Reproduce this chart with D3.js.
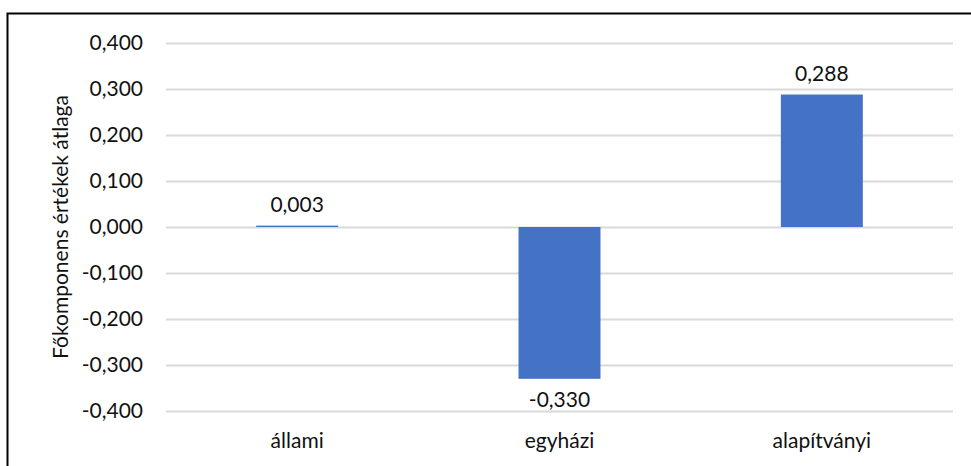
<!DOCTYPE html>
<html>
<head>
<meta charset="utf-8">
<script src="https://cdn.jsdelivr.net/npm/d3@7"></script>
<style>
  html, body { margin: 0; padding: 0; background: #fff; }
  svg { display: block; }
  text { font-family: Lato, "Open Sans", sans-serif; fill: #111; }
</style>
</head>
<body>
<svg id="chart" width="971" height="466"></svg>
<script>
// Average principal-component score by school maintainer type
const categories = ["állami", "egyházi", "alapítványi"];
const values = [0.003, -0.330, 0.288];
const tickValues = [0.4, 0.3, 0.2, 0.1, 0, -0.1, -0.2, -0.3, -0.4];
const axisTitle = "Főkomponens értékek átlaga";

const svg = d3.select("#chart");
const W = 971, H = 466;
const plot = { left: 166, right: 953, top: 43, bottom: 411 };
const fontSize = 21;

const fmt = v => d3.format(".3f")(v).replace(".", ",").replace("−", "-");

// outer frame
svg.append("rect")
  .attr("x", 7.5).attr("y", 13.5)
  .attr("width", W + 10).attr("height", H + 10)
  .attr("fill", "none").attr("stroke", "#000").attr("stroke-width", 2);

const y = d3.scaleLinear().domain([-0.4, 0.4]).range([plot.bottom, plot.top]);
const x = d3.scaleBand().domain(categories)
  .range([plot.left, plot.right])
  .paddingInner(0.6875).paddingOuter(0.6875 / 2);

// gridlines
svg.append("g").selectAll("line").data(tickValues).join("line")
  .attr("x1", plot.left).attr("x2", plot.right)
  .attr("y1", d => Math.round(y(d)) + 0.5).attr("y2", d => Math.round(y(d)) + 0.5)
  .attr("stroke", "#d9d9d9").attr("stroke-width", 2);

// y tick labels
svg.append("g").selectAll("text").data(tickValues).join("text")
  .attr("x", 143).attr("y", d => y(d))
  .attr("dy", "0.35em").attr("text-anchor", "end")
  .attr("font-size", fontSize)
  .text(fmt);

// axis title
svg.append("text")
  .attr("transform", `translate(68,${(plot.top + plot.bottom) / 2}) rotate(-90)`)
  .attr("text-anchor", "middle").attr("font-size", fontSize)
  .text(axisTitle);

// bars
svg.append("g").selectAll("rect").data(values).join("rect")
  .attr("x", (d, i) => x(categories[i]))
  .attr("width", x.bandwidth())
  .attr("y", d => y(Math.max(0, d)))
  .attr("height", d => Math.max(1, Math.abs(y(d) - y(0))))
  .attr("fill", "#4472C4");

// value labels
svg.append("g").selectAll("text").data(values).join("text")
  .attr("x", (d, i) => x(categories[i]) + x.bandwidth() / 2)
  .attr("y", d => d >= 0 ? y(d) - 21 : y(d) + 21)
  .attr("dy", "0.35em").attr("text-anchor", "middle")
  .attr("font-size", fontSize)
  .text(fmt);

// category labels
svg.append("g").selectAll("text").data(categories).join("text")
  .attr("x", d => x(d) + x.bandwidth() / 2)
  .attr("y", 441).attr("dy", "0.35em")
  .attr("text-anchor", "middle").attr("font-size", fontSize)
  .text(d => d);
</script>
</body>
</html>
